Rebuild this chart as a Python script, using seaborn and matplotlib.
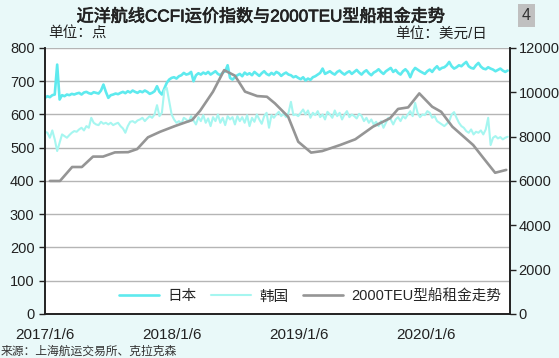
import matplotlib
matplotlib.use('Agg')
import matplotlib.pyplot as plt
import matplotlib.patheffects as pe
import seaborn as sns
import pandas as pd

# 周度数据：2017/1/6 起，每周一个值
start_date = '2017-01-06'

japan = [650, 655, 652, 658, 660, 750, 645, 658, 655, 660, 658, 662, 660,
         663, 665, 660, 666, 668, 664, 662, 667, 665, 663, 672, 690, 668,
         650, 658, 660, 663, 661, 665, 668, 664, 670, 666, 672, 668, 665,
         670, 667, 672, 668, 662, 665, 670, 685, 668, 660, 678, 695, 705,
         710, 712, 708, 715, 718, 725, 720, 722, 728, 700, 718, 724, 720,
         726, 722, 728, 720, 725, 730, 722, 718, 726, 730, 748, 710, 705,
         712, 718, 722, 715, 726, 720, 724, 718, 728, 722, 716, 724, 730,
         722, 718, 725, 720, 728, 724, 716, 722, 726, 720, 718, 712, 715,
         710, 706, 712, 702, 708, 704, 712, 715, 720, 725, 738, 722, 726,
         730, 724, 720, 728, 732, 725, 720, 726, 730, 722, 728, 734, 726,
         720, 728, 733, 724, 718, 726, 730, 736, 728, 722, 730, 735, 740,
         728, 734, 725, 720, 730, 736, 728, 712, 730, 740, 735, 730, 726,
         722, 730, 735, 728, 738, 745, 735, 740, 742, 748, 758, 745, 738,
         742, 748, 745, 752, 758, 745, 740, 738, 748, 755, 744, 738, 736,
         742, 738, 735, 730, 734, 738, 732, 728, 732]

korea = [548, 545, 530, 552, 525, 490, 515, 540, 535, 530, 538, 545, 550,
         548, 555, 560, 552, 565, 560, 590, 575, 570, 568, 578, 572, 575,
         570, 575, 568, 572, 575, 565, 558, 545, 565, 578, 580, 575, 582,
         585, 590, 580, 588, 595, 590, 600, 628, 595, 605, 673, 680, 640,
         600, 585, 575, 580, 572, 590, 585, 578, 595, 582, 570, 592, 580,
         598, 575, 588, 565, 592, 580, 600, 575, 590, 568, 595, 585, 592,
         570, 595, 580, 592, 575, 598, 565, 590, 578, 600, 585, 572, 595,
         605, 560, 598, 590, 600, 608, 595, 602, 592, 605, 638, 598, 600,
         595, 605, 615, 600, 612, 590, 605, 598, 610, 592, 600, 585, 608,
         600, 590, 612, 595, 605, 585, 600, 610, 592, 600, 595, 588, 602,
         596, 580, 590, 575, 585, 570, 578, 565, 580, 560, 575, 590, 585,
         570, 585, 592, 580, 595, 588, 600, 610, 595, 635, 605, 592, 600,
         598, 610, 605, 590, 595, 580, 575, 570, 565, 572, 580, 600, 607,
         590, 575, 565, 560, 550, 545, 555, 540, 548, 545, 552, 540, 555,
         590, 508, 530, 535, 528, 532, 525, 530, 533]

# 2000TEU 型船租金（美元/日）
rent_dates = ['2017-01-20', '2017-02-18', '2017-03-25', '2017-04-22', '2017-05-24',
              '2017-06-22', '2017-07-26', '2017-09-02', '2017-09-28', '2017-10-29',
              '2017-12-03', '2018-01-15', '2018-03-05', '2018-03-28', '2018-05-04',
              '2018-06-05', '2018-07-06', '2018-08-04', '2018-09-08', '2018-10-06',
              '2018-10-29', '2018-12-06', '2019-01-04', '2019-02-10', '2019-03-14',
              '2019-05-04', '2019-06-17', '2019-08-07', '2019-09-25', '2019-10-18',
              '2019-11-16', '2019-12-18', '2020-01-24', '2020-02-19', '2020-03-22',
              '2020-05-21', '2020-06-16', '2020-07-23', '2020-08-24']
rent = [6000, 6000, 6630, 6630, 7100, 7100, 7290, 7300, 7440, 7970,
        8220, 8480, 8750, 9170, 10030, 11000, 10750, 10030, 9830, 9800,
        9500, 8900, 7770, 7280, 7350, 7620, 7880, 8450, 8830, 9250,
        9320, 9950, 9350, 9120, 8450, 7620, 7100, 6370, 6500]

xtick_labels = ['2017/1/6', '2018/1/6', '2019/1/6', '2020/1/6']

weeks = pd.date_range(start_date, periods=len(japan), freq='7D')
ccfi = pd.DataFrame({'date': weeks, 'japan': japan, 'korea': korea})
rent_df = pd.DataFrame({'date': pd.to_datetime(rent_dates), 'rent': rent})

sns.set_style('white')
plt.rcParams['font.family'] = ['Liberation Sans', 'Noto Sans CJK SC']
plt.rcParams['axes.unicode_minus'] = False

bg = '#e9f9f9'
fig = plt.figure(figsize=(5.59, 3.58), dpi=100, facecolor=bg)
ax = fig.add_axes([0.0805, 0.123, 0.832, 0.743])
ax2 = ax.twinx()

sns.lineplot(data=ccfi, x='date', y='japan', ax=ax, color='#5eeaee', lw=1.9, label='日本', legend=False)
sns.lineplot(data=ccfi, x='date', y='korea', ax=ax, color='#a6f6f0', lw=1.5, label='韩国', legend=False)
sns.lineplot(data=rent_df, x='date', y='rent', ax=ax2, color='#959595', lw=1.9, label='2000TEU型船租金走势', legend=False)

ax.set_ylim(0, 800)
ax.set_yticks(range(0, 801, 100))
ax2.set_ylim(0, 12000)
ax2.set_yticks(range(0, 12001, 2000))
ax.set_xlim(pd.Timestamp('2017-01-06'), pd.Timestamp('2020-09-04'))
tick_dates = [pd.Timestamp(s.replace('/', '-')) for s in xtick_labels]
ax.set_xticks(tick_dates)
ax.set_xticklabels(xtick_labels)

ax.grid(axis='y', color='#b5b5b5', lw=1)
ax.set_axisbelow(True)
ax.set_facecolor('white')
ax.set_xlabel('')
ax.set_ylabel('')
ax2.set_ylabel('')

for a in (ax, ax2):
    a.spines['top'].set_visible(False)
    for s in ('left', 'right', 'bottom'):
        a.spines[s].set_color('#222222')
        a.spines[s].set_linewidth(1.2)
ax.tick_params(axis='both', labelsize=10.5, length=4, width=1, colors='#222222', direction='out')
ax.tick_params(axis='x', labelsize=11, pad=6)
ax2.tick_params(axis='y', labelsize=10.5, length=4, width=1, colors='#222222', direction='out', pad=2)

h1, l1 = ax.get_legend_handles_labels()
h2, l2 = ax2.get_legend_handles_labels()
ax2.legend(h1 + h2, l1 + l2, ncol=3, frameon=False, loc='center', bbox_to_anchor=(0.57, 0.066),
           fontsize=10.5, handlelength=2.75, columnspacing=1.0, handletextpad=0.55)

fig.text(0.467, 0.955, '近洋航线CCFI运价指数与2000TEU型船租金走势', ha='center', va='center',
         fontsize=12.3, color='#222222',
         path_effects=[pe.withStroke(linewidth=0.5, foreground='#222222')])
fig.text(0.942, 0.957, '4', ha='center', va='center', fontsize=11.5, color='#333333',
         bbox=dict(boxstyle='square,pad=0.25', facecolor='#c0c0c0', edgecolor='none'))
fig.text(0.087, 0.907, '单位：点', ha='left', va='center', fontsize=10.5, color='#222222')
fig.text(0.872, 0.907, '单位：美元/日', ha='right', va='center', fontsize=10.5, color='#222222')
fig.text(0.002, 0.018, '来源：上海航运交易所、克拉克森', ha='left', va='center', fontsize=8.5, color='#333333')

fig.savefig('out.png', dpi=100, facecolor=bg)
